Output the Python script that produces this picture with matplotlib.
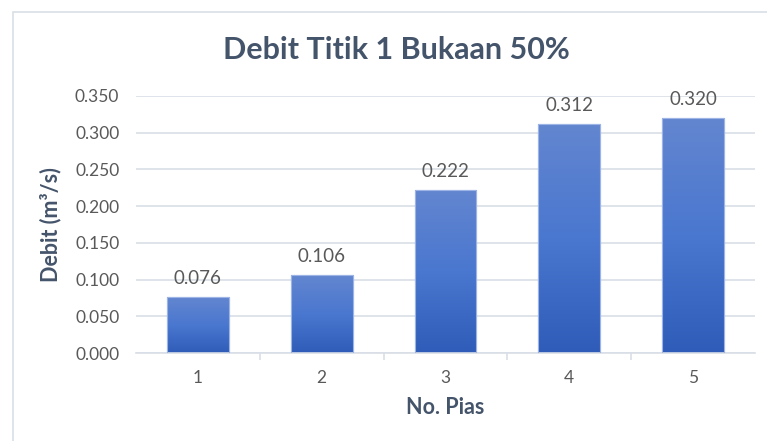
import matplotlib
matplotlib.use("Agg")
import matplotlib.pyplot as plt
from matplotlib.patches import Rectangle
from matplotlib.colors import LinearSegmentedColormap
import numpy as np

pias = [1, 2, 3, 4, 5]
debit = [0.076, 0.106, 0.222, 0.312, 0.320]
yticks = [0.000, 0.050, 0.100, 0.150, 0.200, 0.250, 0.300, 0.350]

TEXT = '#595959'
TITLE = '#44546A'
GRID = '#D9DEE6'


def main():
    plt.rcParams['font.family'] = ['Lato', 'DejaVu Sans']

    fig = plt.figure(figsize=(7.67, 4.41), dpi=100)
    ax = fig.add_axes([136 / 767, 1 - 353 / 441, (755 - 136) / 767, (353 - 96) / 441])

    # chart area border
    fig.patches.append(Rectangle((13 / 767, -0.1), 1.1, 1 - 12 / 441 + 0.1,
                                 transform=fig.transFigure, fill=False,
                                 edgecolor='#D9DEE6', lw=1.2))

    bars = ax.bar(pias, debit, width=0.5, color='#4472C4',
                  edgecolor='#9DB4E6', linewidth=0.8, zorder=2)

    cmap = LinearSegmentedColormap.from_list('g', ['#2E5CB8', '#4A77CF', '#6386D0'])
    grad = np.linspace(0, 1, 256).reshape(-1, 1)
    for b in bars:
        x0, w, h = b.get_x(), b.get_width(), b.get_height()
        im = ax.imshow(grad, cmap=cmap, origin='lower', aspect='auto',
                       extent=[x0, x0 + w, 0, h], zorder=2.5)
        im.set_clip_path(b)
        ax.add_patch(Rectangle((x0, 0), w, h, fill=False,
                               edgecolor='#9DB4E6', lw=0.8, zorder=3))

    for x, v in zip(pias, debit):
        ax.annotate(f'{v:.3f}', (x, v), xytext=(0, 7), textcoords='offset points',
                    ha='center', va='bottom', fontsize=13.5, color=TEXT)

    ax.set_xlim(0.5, 5.5)
    ax.set_ylim(0, 0.35)
    ax.set_yticks(yticks)
    ax.set_yticklabels([f'{t:.3f}' for t in yticks])
    ax.set_xticks(pias)
    ax.set_xticks([1.5, 2.5, 3.5, 4.5], minor=True)
    ax.tick_params(axis='x', which='major', length=0, pad=12, labelsize=12.5, labelcolor=TEXT)
    ax.tick_params(axis='x', which='minor', length=5, color=GRID, width=1.2)
    ax.tick_params(axis='y', length=0, pad=12, labelsize=12.5, labelcolor=TEXT)

    ax.yaxis.grid(True, color=GRID, lw=1.2, zorder=0)
    ax.set_axisbelow(True)
    for s in ['top', 'right', 'left']:
        ax.spines[s].set_visible(False)
    ax.spines['bottom'].set_color(GRID)
    ax.spines['bottom'].set_linewidth(1.2)

    ax.set_xlabel('No. Pias', fontsize=15.5, fontweight='bold', color=TITLE, labelpad=8)
    ax.set_ylabel('Debit (m³/s)', fontsize=15.5, fontweight='bold', color=TITLE, labelpad=10)

    fig.text(396 / 767, 1 - 50 / 441, 'Debit Titik 1 Bukaan 50%', ha='center', va='center',
             fontsize=22, fontweight='bold', color=TITLE)

    fig.savefig('out.png', dpi=100)


if __name__ == "__main__":
    main()
